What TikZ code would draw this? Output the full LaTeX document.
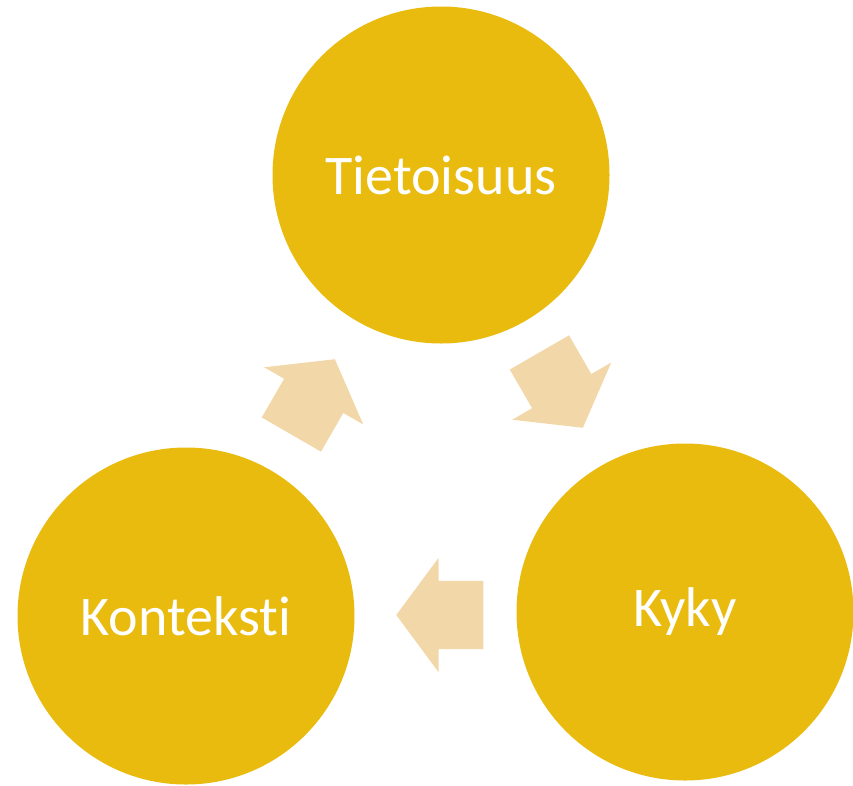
\documentclass[tikz,border=0pt]{standalone}
\usepackage{fontspec}
\setmainfont{Carlito}[Ligatures=CommonOff]
\usetikzlibrary{shapes.arrows}

\definecolor{gold}{HTML}{E9BB0F}
\definecolor{sand}{HTML}{F2D8A9}

\tikzset{
  bubble/.style={circle, fill=gold, minimum size=337pt, inner sep=0pt,
    text=white, font=\fontsize{56}{62}\selectfont},
  flow/.style={single arrow, fill=sand, draw=none,
    inner xsep=0pt, inner ysep=34pt, minimum height=87pt,
    single arrow head extend=23pt, single arrow tip angle=107, anchor=tip}
}

\begin{document}
\begin{tikzpicture}[x=1pt, y=-1pt]

  \useasboundingbox (0,0) rectangle (853,785);

  % Define nodes
  \node[bubble] (tiet) at (441,175) {Tietoisuus};
  \node[bubble] (kyky) at (685,612) {Kyky};
  \node[bubble] (kont) at (186,616) {Konteksti};

  % Arrows between the circles
  \node[flow, rotate=-60] (a1) at (583,428) {};
  \node[flow, rotate=180] (a2) at (396,615) {};
  \node[flow, rotate=60]  (a3) at (335,359) {};

\end{tikzpicture}
\end{document}
